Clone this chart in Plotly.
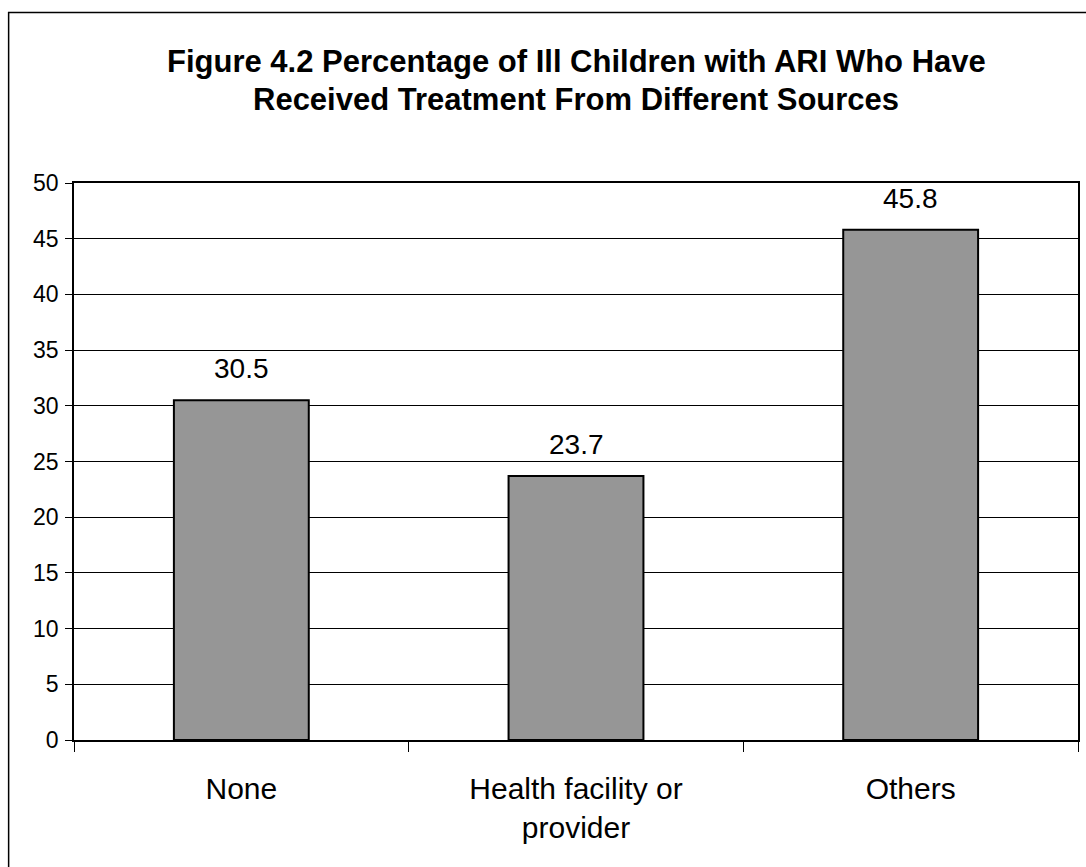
import plotly.graph_objects as go

categories = ["None", "Health facility or<br>provider", "Others"]
values = [30.5, 23.7, 45.8]
y_ticks = [0, 5, 10, 15, 20, 25, 30, 35, 40, 45, 50]
title_lines = [
    "Figure 4.2 Percentage of Ill Children with ARI Who Have",
    "Received Treatment From Different Sources",
]

FONT = "Liberation Sans, Arial, sans-serif"

# plot-area geometry in pixels
PLOT_TOP, PLOT_BOTTOM, PLOT_LEFT, PLOT_RIGHT = 183, 740, 74, 1080
PLOT_H = PLOT_BOTTOM - PLOT_TOP
PLOT_W = PLOT_RIGHT - PLOT_LEFT

fig = go.Figure()
fig.add_trace(go.Bar(
    x=categories,
    y=values,
    width=0.403,
    marker=dict(color="#969696", line=dict(color="black", width=2)),
    hoverinfo="x+y",
))

# value labels above each bar
for c, v in zip(categories, values):
    fig.add_annotation(
        x=c, y=v, text=f"{v:.1f}", showarrow=False,
        yanchor="bottom", yshift=14,
        font=dict(family=FONT, size=28, color="black"),
    )

# two-line bold title centred over the plot area
title_centres = [61, 99]
for line, yc in zip(title_lines, title_centres):
    fig.add_annotation(
        x=0.5, xref="paper", y=1.0, yref="paper",
        text=f"<b>{line}</b>", showarrow=False,
        xanchor="center", yanchor="middle",
        yshift=PLOT_TOP - yc,
        font=dict(family=FONT, size=31, color="black"),
    )

# outer frame of the chart
fig.add_shape(
    type="rect", xref="paper", yref="paper",
    x0=(8.5 - PLOT_LEFT) / PLOT_W, x1=(1095 - PLOT_LEFT) / PLOT_W,
    y0=(PLOT_BOTTOM - 880) / PLOT_H, y1=(PLOT_BOTTOM - 12.5) / PLOT_H,
    line=dict(color="black", width=1.5), fillcolor="rgba(0,0,0,0)",
    layer="below",
)

fig.update_layout(
    width=1086, height=867,
    margin=dict(l=PLOT_LEFT, r=1086 - PLOT_RIGHT, t=PLOT_TOP, b=867 - PLOT_BOTTOM, pad=0),
    paper_bgcolor="white", plot_bgcolor="white",
    showlegend=False,
    font=dict(family=FONT, color="black"),
    xaxis=dict(
        type="category",
        range=[-0.5, 2.5],
        showline=True, linecolor="black", linewidth=1.5, mirror=True,
        ticks="outside", tickson="boundaries", ticklen=10, tickcolor="black", tickwidth=1,
        ticklabelstandoff=21,
        tickfont=dict(family=FONT, size=30, color="black"),
        showgrid=False,
    ),
    yaxis=dict(
        range=[0, 50],
        tickmode="array", tickvals=y_ticks, ticktext=[str(t) for t in y_ticks],
        showline=True, linecolor="black", linewidth=1.5, mirror=True,
        ticks="outside", ticklen=7, tickcolor="black", tickwidth=1,
        ticklabelstandoff=2,
        tickfont=dict(family=FONT, size=23, color="black"),
        showgrid=True, gridcolor="black", gridwidth=1,
        zeroline=False,
    ),
    bargap=0.6,
)

fig.write_html("out.html")
